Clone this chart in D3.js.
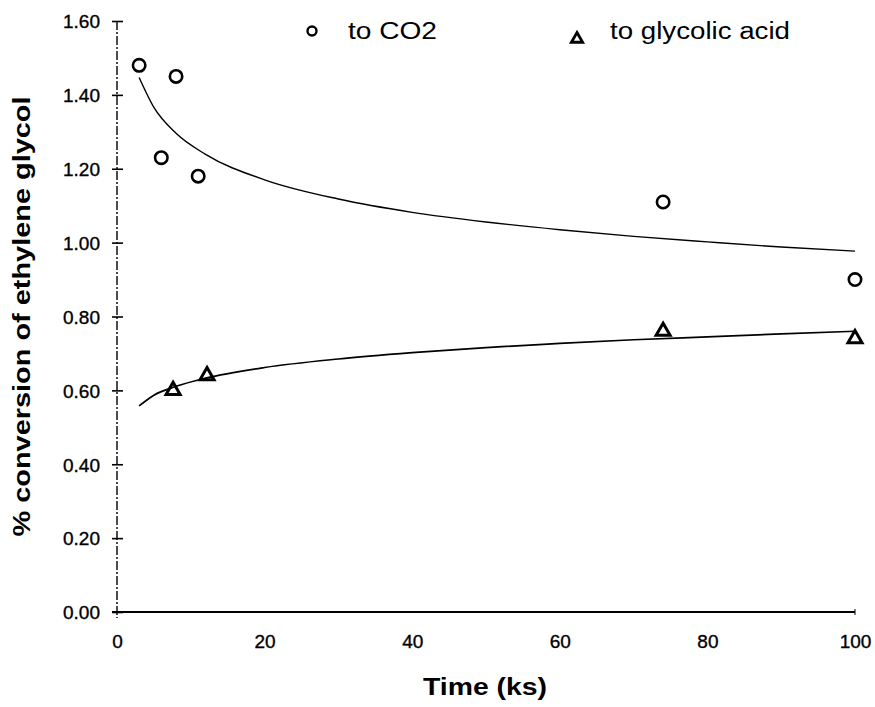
<!DOCTYPE html>
<html>
<head>
<meta charset="utf-8">
<script src="https://cdn.jsdelivr.net/npm/d3@7"></script>
<style>
  html, body { margin: 0; padding: 0; background: #fff; }
  svg { display: block; }
  text { font-family: "Liberation Sans", Arial, sans-serif; fill: #000; }
</style>
</head>
<body>
<svg id="chart" width="875" height="707"></svg>
<script>
// Measured conversions of ethylene glycol (%), time in ks
const co2Time = [3, 6, 8, 11, 74, 100];
const co2Value = [1.48, 1.23, 1.45, 1.18, 1.11, 0.90];
const glyTime = [7.6, 12.2, 74, 100];
const glyValue = [0.60, 0.64, 0.76, 0.74];

// Trend curves through each series
const co2FitTime = [3, 5, 8, 12, 20, 30, 40, 50, 60, 70, 80, 90, 100];
const co2FitValue = [1.447, 1.366, 1.296, 1.239, 1.170, 1.118, 1.082, 1.056, 1.035, 1.017, 1.002, 0.988, 0.977];
const glyFitTime = [3, 5, 8, 12, 20, 30, 40, 50, 60, 70, 80, 90, 100];
const glyFitValue = [0.558, 0.587, 0.611, 0.633, 0.662, 0.685, 0.702, 0.716, 0.727, 0.737, 0.745, 0.753, 0.760];

const xTicks = [0, 20, 40, 60, 80, 100];
const yTicks = [0, 0.2, 0.4, 0.6, 0.8, 1.0, 1.2, 1.4, 1.6];

const svg = d3.select("#chart");
const x = d3.scaleLinear().domain([0, 100]).range([117, 855]);
const y = d3.scaleLinear().domain([0, 1.6]).range([612, 21]);

// Y axis: broken spine with ticks crossing it
const yAxis = svg.append("g").attr("transform", `translate(${x(0)},0)`)
  .call(d3.axisLeft(y).tickValues(yTicks).tickFormat(d3.format(".2f")).tickSize(0).tickPadding(17));
yAxis.select(".domain").remove();
yAxis.selectAll("text")
  .style("font-size", "19px").attr("dy", "0.36em")
  .attr("stroke", "#000").attr("stroke-width", 0.35);
yAxis.append("line")
  .attr("x1", 0).attr("x2", 0).attr("y1", y(1.6)).attr("y2", y(0) + 6)
  .attr("stroke", "#000").attr("stroke-width", 1.4)
  .attr("stroke-dasharray", "9,2,2,2");
yAxis.selectAll(".tick").append("line")
  .attr("x1", -5).attr("x2", 6).attr("y1", 0).attr("y2", 0)
  .attr("stroke", "#000").attr("stroke-width", 1.6);

// X axis: solid baseline, labels only
const xAxis = svg.append("g").attr("transform", `translate(0,${y(0)})`)
  .call(d3.axisBottom(x).tickValues(xTicks).tickSize(0).tickPadding(23));
xAxis.select(".domain").remove();
xAxis.selectAll("text")
  .style("font-size", "19px")
  .attr("stroke", "#000").attr("stroke-width", 0.35);
xAxis.append("line")
  .attr("x1", x(0) - 5).attr("x2", x(100)).attr("y1", 0).attr("y2", 0)
  .attr("stroke", "#000").attr("stroke-width", 2);
xAxis.append("line")
  .attr("x1", x(100)).attr("x2", x(100)).attr("y1", -3).attr("y2", 3)
  .attr("stroke", "#000").attr("stroke-width", 1);

// Axis titles
svg.append("text")
  .attr("x", 485).attr("y", 695)
  .attr("text-anchor", "middle")
  .attr("textLength", 124).attr("lengthAdjust", "spacingAndGlyphs")
  .style("font-size", "23px").style("font-weight", "bold")
  .text("Time (ks)");
svg.append("text")
  .attr("transform", `translate(30,${y(0.8)}) rotate(-90)`)
  .attr("text-anchor", "middle")
  .attr("textLength", 440).attr("lengthAdjust", "spacingAndGlyphs")
  .style("font-size", "23px").style("font-weight", "bold")
  .text("% conversion of ethylene glycol");

// Trend curves
const line = d3.line().curve(d3.curveMonotoneX)
  .x(d => x(d[0])).y(d => y(d[1]));
svg.append("path")
  .datum(d3.zip(co2FitTime, co2FitValue))
  .attr("d", line).attr("fill", "none").attr("stroke", "#000").attr("stroke-width", 1.4);
svg.append("path")
  .datum(d3.zip(glyFitTime, glyFitValue))
  .attr("d", line).attr("fill", "none").attr("stroke", "#000").attr("stroke-width", 1.7);

// Markers
const tri = d3.symbol().type(d3.symbolTriangle).size(85);
svg.append("g").selectAll("circle")
  .data(d3.zip(co2Time, co2Value)).join("circle")
  .attr("cx", d => x(d[0])).attr("cy", d => y(d[1])).attr("r", 6.2)
  .attr("fill", "none").attr("stroke", "#000").attr("stroke-width", 2.6);
svg.append("g").selectAll("path")
  .data(d3.zip(glyTime, glyValue)).join("path")
  .attr("d", tri)
  .attr("transform", d => `translate(${x(d[0])},${y(d[1])})`)
  .attr("fill", "none").attr("stroke", "#000").attr("stroke-width", 3)
  .attr("stroke-linejoin", "miter");

// Legend
const legend = svg.append("g");
legend.append("circle").attr("cx", 312).attr("cy", 31).attr("r", 4.5)
  .attr("fill", "none").attr("stroke", "#000").attr("stroke-width", 2.4);
legend.append("text").attr("x", 348).attr("y", 39)
  .attr("textLength", 89).attr("lengthAdjust", "spacingAndGlyphs")
  .style("font-size", "23px").text("to CO2");
legend.append("path").attr("d", d3.symbol().type(d3.symbolTriangle).size(55)())
  .attr("transform", "translate(577,39)")
  .attr("fill", "none").attr("stroke", "#000").attr("stroke-width", 2.8);
legend.append("text").attr("x", 610).attr("y", 39)
  .attr("textLength", 180).attr("lengthAdjust", "spacingAndGlyphs")
  .style("font-size", "23px").text("to glycolic acid");
</script>
</body>
</html>
